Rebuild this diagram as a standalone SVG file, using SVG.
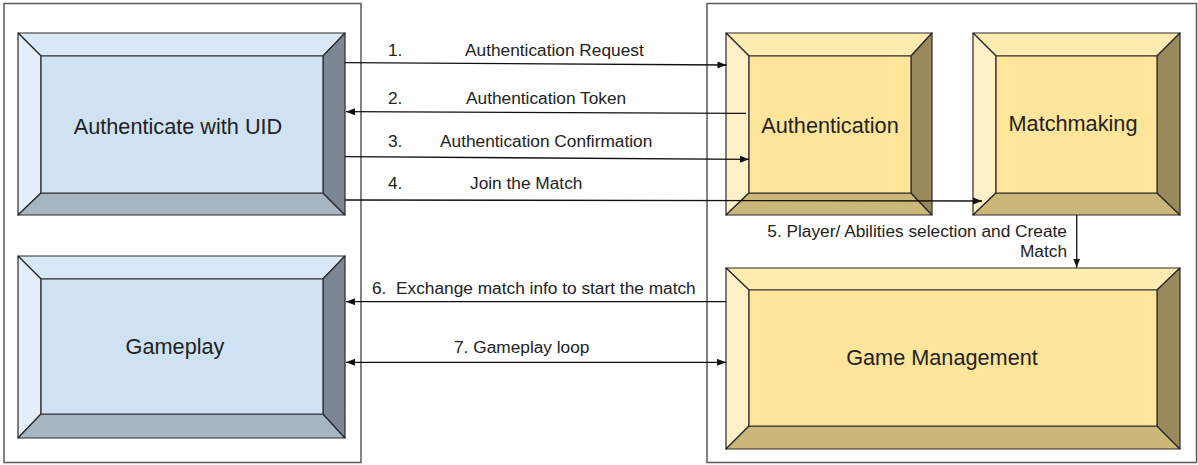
<svg xmlns="http://www.w3.org/2000/svg" width="1198" height="465" viewBox="0 0 1198 465">
<defs>
<style>
.frame{fill:#fff;stroke:#5a5a5a;stroke-width:1.5}
.bv{stroke:#2b2b2b;stroke-width:1.2;stroke-linejoin:round}
.b-c{fill:#cfe2f3}.b-t{fill:#d9e8f6}.b-l{fill:#e3eefa}.b-b{fill:#a6b5c2}.b-r{fill:#7c8793}
.y-c{fill:#ffe599}.y-t{fill:#ffeab0}.y-l{fill:#fff0c8}.y-b{fill:#ccb77a}.y-r{fill:#99895c}
.nt{font-family:"Liberation Sans",Arial,sans-serif;font-size:21.7px;fill:#222;text-anchor:middle}
.lb{font-family:"Liberation Sans",Arial,sans-serif;font-size:17.3px;fill:#222}
.cn{fill:none;stroke:#111;stroke-width:1.3}
</style>
<marker id="ah" markerUnits="userSpaceOnUse" markerWidth="10" markerHeight="8" refX="9" refY="3.5" orient="auto-start-reverse">
<path d="M0,0 L9,3.5 L0,7 z" fill="#111"/>
</marker>
</defs>

<rect class="frame" x="4" y="3.5" width="357" height="459"/>
<rect class="frame" x="707" y="3.5" width="489.5" height="459"/>

<g id="node-authenticate">
<polygon class="bv b-t" points="18,33 345,33 323,56 41,56"/>
<polygon class="bv b-l" points="18,33 41,56 41,193 18,215"/>
<polygon class="bv b-b" points="18,215 41,193 323,193 345,215"/>
<polygon class="bv b-r" points="345,33 345,215 323,193 323,56"/>
<rect class="bv b-c" x="41" y="56" width="282" height="137"/>
<text class="nt" x="178" y="134">Authenticate with UID</text>
</g>

<g id="node-gameplay">
<polygon class="bv b-t" points="18,256 345,256 323,279 41,279"/>
<polygon class="bv b-l" points="18,256 41,279 41,414 18,438"/>
<polygon class="bv b-b" points="18,438 41,414 323,414 345,438"/>
<polygon class="bv b-r" points="345,256 345,438 323,414 323,279"/>
<rect class="bv b-c" x="41" y="279" width="282" height="135"/>
<text class="nt" x="175" y="354">Gameplay</text>
</g>

<g id="node-authentication">
<polygon class="bv y-t" points="726,33 932,33 911,56 749,56"/>
<polygon class="bv y-l" points="726,33 749,56 749,193 726,215"/>
<polygon class="bv y-b" points="726,215 749,193 911,193 932,215"/>
<polygon class="bv y-r" points="932,33 932,215 911,193 911,56"/>
<rect class="bv y-c" x="749" y="56" width="162" height="137"/>
<text class="nt" x="830" y="133">Authentication</text>
</g>

<g id="node-matchmaking">
<polygon class="bv y-t" points="973,33 1180,33 1157,56 996,56"/>
<polygon class="bv y-l" points="973,33 996,56 996,193 973,215"/>
<polygon class="bv y-b" points="973,215 996,193 1157,193 1180,215"/>
<polygon class="bv y-r" points="1180,33 1180,215 1157,193 1157,56"/>
<rect class="bv y-c" x="996" y="56" width="161" height="137"/>
<text class="nt" x="1073" y="131">Matchmaking</text>
</g>

<g id="node-game-management">
<polygon class="bv y-t" points="726,268 1180,268 1157,290 749,290"/>
<polygon class="bv y-l" points="726,268 749,290 749,426 726,449"/>
<polygon class="bv y-b" points="726,449 749,426 1157,426 1180,449"/>
<polygon class="bv y-r" points="1180,268 1180,449 1157,426 1157,290"/>
<rect class="bv y-c" x="749" y="290" width="408" height="136"/>
<text class="nt" x="942" y="365">Game Management</text>
</g>

<g id="connectors">
<line class="cn" x1="345" y1="62.7" x2="726.5" y2="65" marker-end="url(#ah)"/>
<line class="cn" x1="746" y1="113.3" x2="346" y2="111.7" marker-end="url(#ah)"/>
<line class="cn" x1="345" y1="156.7" x2="749" y2="159.3" marker-end="url(#ah)"/>
<line class="cn" x1="345" y1="200" x2="982" y2="201" marker-end="url(#ah)"/>
<line class="cn" x1="1076.7" y1="215" x2="1076.7" y2="267.5" marker-end="url(#ah)"/>
<line class="cn" x1="726" y1="301.7" x2="346" y2="301.7" marker-end="url(#ah)"/>
<line class="cn" x1="346" y1="362.3" x2="726" y2="362.3" marker-start="url(#ah)" marker-end="url(#ah)"/>

<text class="lb" x="388" y="56">1.</text>
<text class="lb" x="465" y="56">Authentication Request</text>
<text class="lb" x="388" y="104">2.</text>
<text class="lb" x="466" y="104">Authentication Token</text>
<text class="lb" x="388" y="146.7">3.</text>
<text class="lb" x="440" y="146.7">Authentication Confirmation</text>
<text class="lb" x="388" y="189.3">4.</text>
<text class="lb" x="470" y="189.3">Join the Match</text>
<text class="lb" x="1067" y="237.3" text-anchor="end">5. Player/ Abilities selection and Create</text>
<text class="lb" x="1067" y="257.3" text-anchor="end">Match</text>
<text class="lb" x="372" y="294" xml:space="preserve">6.  Exchange match info to start the match</text>
<text class="lb" x="454" y="352.7">7. Gameplay loop</text>
</g>
</svg>
